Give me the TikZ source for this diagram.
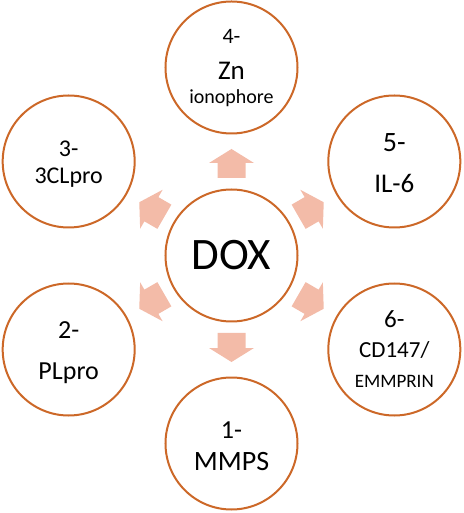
\documentclass[tikz,border=0pt]{standalone}
\usepackage{fontspec}
\setmainfont{Carlito}
\definecolor{ringc}{RGB}{204,104,40}
\definecolor{arrc}{RGB}{243,187,168}
\newcommand{\fs}[1]{\fontsize{#1}{#1}\selectfont}

\begin{document}
\begin{tikzpicture}[x=1pt,y=1pt,ring/.style={shape=circle,draw=ringc,line width=2pt,minimum size=132pt,inner sep=0pt},txt/.style={anchor=base,inner sep=0pt},blk/.style={fill=arrc,draw=none}]
\def\R{188};
\def\ra{77.5};
\def\rb{92.5};
\def\rc{106.5};
\def\wa{14};
\def\wb{22.5};

\useasboundingbox (-231.5,-257.5) rectangle (231.5,255.5);

\node[ring] (dox) at (0,0) {};
\node[ring] (zn) at (90:\R) {};
\node[ring] (clpro) at (150:\R) {};
\node[ring] (il) at (30:\R) {};
\node[ring] (plpro) at (210:\R) {};
\node[ring] (cd) at (330:\R) {};
\node[ring] (mmps) at (270:\R) {};

% block arrows out of the centre
\foreach \a in {90,150,30,210,330,270}
  \fill[blk,rotate=\a] (\ra,-\wa) -- (\rb,-\wa) -- (\rb,-\wb) -- (\rc,0) -- (\rb,\wb) -- (\rb,\wa) -- (\ra,\wa) -- cycle;

\node[txt,font=\fs{45}] (doxt) at ([yshift=-14.5pt]dox.center) {DOX};

\node[txt,font=\fs{22}] (zna) at ([yshift=23.5pt]zn.center) {4-};
\node[txt,font=\fs{27}] (znb) at ([yshift=-12.5pt]zn.center) {Zn};
\node[txt,font=\fs{20}] (znc) at ([yshift=-36.5pt]zn.center) {ionophore};

\node[txt,font=\fs{24}] (clproa) at ([yshift=4.5pt]clpro.center) {3-};
\node[txt,font=\fs{24}] (clprob) at ([yshift=-22.5pt]clpro.center) {3CLpro};

\node[txt,font=\fs{28}] (ila) at ([yshift=9.5pt]il.center) {5-};
\node[txt,font=\fs{27}] (ilb) at ([yshift=-31.5pt]il.center) {IL-6};

\node[txt,font=\fs{26}] (plproa) at ([yshift=10.5pt]plpro.center) {2-};
\node[txt,font=\fs{26}] (plprob) at ([yshift=-29.5pt]plpro.center) {PLpro};

\node[txt,font=\fs{25}] (cda) at ([yshift=21.5pt]cd.center) {6-};
\node[txt,font=\fs{23}] (cdb) at ([yshift=-7.5pt]cd.center) {CD147/};
\node[txt,font=\fs{19}] (cdc) at ([yshift=-37.5pt]cd.center) {EMMPRIN};

\node[txt,font=\fs{26}] (mmpsa) at ([yshift=5.5pt]mmps.center) {1-};
\node[txt,font=\fs{28}] (mmpsb) at ([yshift=-26.5pt]mmps.center) {MMPS};
\end{tikzpicture}
\end{document}
